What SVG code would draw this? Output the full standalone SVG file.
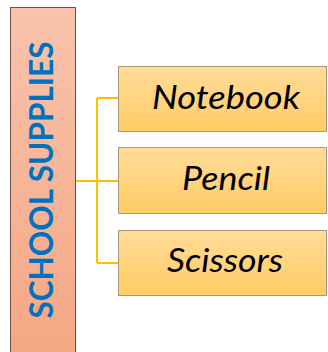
<svg xmlns="http://www.w3.org/2000/svg" width="328" height="352" viewBox="0 0 328 352">
<defs>
<linearGradient id="gTitle" x1="0" y1="0" x2="0" y2="1">
<stop offset="0" stop-color="#F8C3AC"/>
<stop offset="1" stop-color="#F5A784"/>
</linearGradient>
<linearGradient id="gBox" x1="0" y1="0" x2="0" y2="1">
<stop offset="0" stop-color="#FFDC99"/>
<stop offset="1" stop-color="#FFCC66"/>
</linearGradient>
<style>
.box{fill:url(#gBox);stroke:#A89878;stroke-width:1}
.lbl{font-family:Lato,"Open Sans","Liberation Sans",sans-serif;font-style:italic;font-size:32px;fill:#000;text-anchor:middle}
.conn{fill:none;stroke:#FFC000;stroke-width:2}
</style>
</defs>
<rect width="328" height="352" fill="#FFFFFF"/>
<g id="title">
<rect x="10.5" y="7.5" width="65" height="350" fill="url(#gTitle)" stroke="#6B5044" stroke-width="1"/>
<text transform="translate(53,180) rotate(-90)" text-anchor="middle" font-family="Lato,'Open Sans','Liberation Sans',sans-serif" font-weight="bold" font-size="33" fill="#0070C0" textLength="277" lengthAdjust="spacingAndGlyphs">SCHOOL SUPPLIES</text>
</g>
<g id="connectors">
<path class="conn" d="M76,181 H118 M97,98 V263 M97,98 H118 M97,263 H118"/>
</g>
<g id="notebook">
<rect class="box" x="118.5" y="66.5" width="208" height="65"/>
<text class="lbl" x="226" y="109" textLength="148" lengthAdjust="spacingAndGlyphs">Notebook</text>
</g>
<g id="pencil">
<rect class="box" x="118.5" y="147.5" width="208" height="66"/>
<text class="lbl" x="226" y="190" textLength="88" lengthAdjust="spacingAndGlyphs">Pencil</text>
</g>
<g id="scissors">
<rect class="box" x="118.5" y="230.5" width="208" height="65"/>
<text class="lbl" x="225" y="272" textLength="116" lengthAdjust="spacingAndGlyphs">Scissors</text>
</g>
</svg>
